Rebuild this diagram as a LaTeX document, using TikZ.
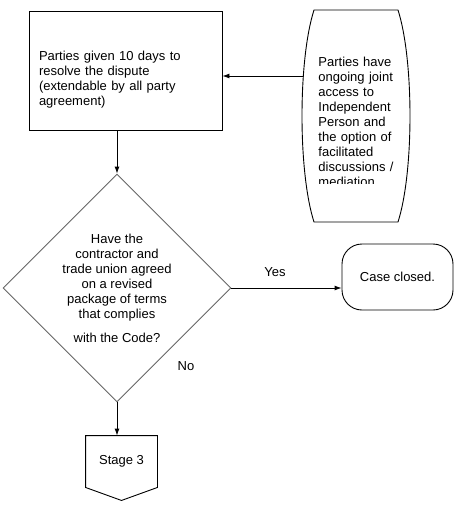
\documentclass[tikz,border=0pt]{standalone}
\usepackage{fontspec}
\setmainfont{Liberation Sans}
\usetikzlibrary{shapes.geometric}
\usetikzlibrary{arrows.meta}

\begin{document}
\begin{tikzpicture}[x=1pt, y=-1pt, line width=0.9pt, >={Latex[length=7pt,width=5pt]},
  font=\fontsize{13}{15}\selectfont,
  proc/.style = {draw, rectangle, minimum width=193pt, minimum height=119pt, text width=173pt, align=left, inner sep=0pt},
  dec/.style = {draw=black!60, diamond, minimum width=228pt, minimum height=228pt, inner sep=0pt, align=center},
  term/.style = {draw, rectangle, rounded corners=20pt, minimum width=111pt, minimum height=66pt},
  lbl/.style = {inner sep=0pt}]
  \useasboundingbox (0,0) rectangle (460,515);
  % process box and decision
  \node[proc, text height=28pt] (given) at (125.5,70.5) {Parties given 10 days to\\ resolve the dispute\\ (extendable by all party\\ agreement)};
  \node[dec] (agreed) at (117,288) {Have the\\ contractor and\\ trade union agreed\\ on a revised\\ package of terms\\ that complies\\[9pt] with the Code?};
  \node[term] (closed) at (397.5,277) {Case closed.};
  \node[minimum width=71pt, minimum height=51pt, inner sep=0pt] (stage) at (121.5,461.5) {Stage 3};
  \draw (stage.north west) -- (stage.north east) -- (stage.south east) -- ([yshift=-13pt]stage.south) -- (stage.south west) -- cycle;
  % side note, text cut off at the bottom
  \draw (314,10) -- (398,10) .. controls (414,60) and (414,172) .. (398,222) -- (314,222) .. controls (298,172) and (298,60) .. (314,10) -- cycle;
  \begin{scope}
    \clip (300,10) rectangle (420,183);
    \node[anchor=north west, text width=90pt, align=left, inner sep=0pt] (access) at (318,57) {Parties have\\ ongoing joint\\ access to\\ Independent\\ Person and\\ the option of\\ facilitated\\ discussions /\\ mediation};
  \end{scope}
  \coordinate (accessin) at (303,76);
  % connectors
  \draw[->] (accessin) -- (accessin -| given.east);
  \draw[->] (agreed.north |- given.south) -- (agreed.north);
  \draw[->] (agreed.east) -- (agreed.east -| closed.west);
  \draw[->] (agreed.south) -- (agreed.south |- stage.north);
  \node[lbl] (yes) at (275,272) {Yes};
  \node[lbl] (no) at (186,366) {No};
\end{tikzpicture}
\end{document}
